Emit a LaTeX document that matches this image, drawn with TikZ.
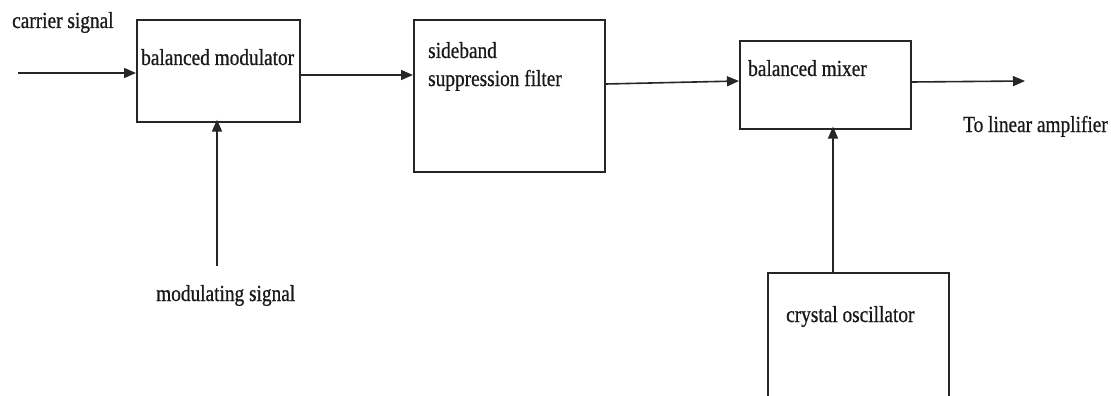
\documentclass[tikz,border=0pt]{standalone}
\usepackage{fontspec}
\setmainfont{Liberation Serif}[FakeStretch=0.84, FakeBold=0.7]
\usetikzlibrary{arrows.meta}
\tikzset{
  blk/.style={draw=black!85, line width=1.6pt, anchor=north west, inner sep=0pt},
  lbl/.style={anchor=base west, inner sep=0pt, font=\fontsize{23}{26}\selectfont, text=black!90},
  arr/.style={draw=black!85, line width=1.6pt, -{Triangle[length=12pt,width=10pt]}},
}
\begin{document}
\begin{tikzpicture}[x=1pt,y=-1pt]
\useasboundingbox (0,0) rectangle (1111,396);
\clip (0,0) rectangle (1111,396);
% blocks
\node[blk, minimum width=163pt, minimum height=102pt] (bm) at (136,19) {};
\node[blk, minimum width=191pt, minimum height=152pt] (sf) at (413,19) {};
\node[blk, minimum width=171pt, minimum height=88pt] (mx) at (739,40) {};
\node[blk, minimum width=181pt, minimum height=140pt] (xo) at (767,272) {};
% texts
\node[lbl] (tcar) at (12,28) {carrier signal};
\node[lbl] (tbm) at (141,65) {balanced modulator};
\node[lbl] (tsf1) at (428,58) {sideband};
\node[lbl] (tsf2) at (428,86) {suppression filter};
\node[lbl] (tmx) at (748,76) {balanced mixer};
\node[lbl] (tout) at (963,132) {To linear amplifier};
\node[lbl] (tmod) at (156,301) {modulating signal};
\node[lbl] (txo) at (786,322) {crystal oscillator};
% free ends
\coordinate (cin) at (18,73);
\coordinate (min) at (217,266);
\coordinate (oend) at (1025,81);
% connectors
\draw[arr] (cin) -- (cin -| bm.west);
\draw[arr] (min) -- ([yshift=3pt]min |- bm.south);
\draw[arr] (bm.east |- 0,75) -- (sf.west |- 0,75);
\draw[arr] (sf.east |- 0,84) -- (mx.west |- 0,81);
\draw[arr] (mx.east |- 0,82) -- (oend);
\draw[arr] (xo.north -| 833,0) -- ([yshift=3pt]mx.south -| 833,0);
\end{tikzpicture}
\end{document}
